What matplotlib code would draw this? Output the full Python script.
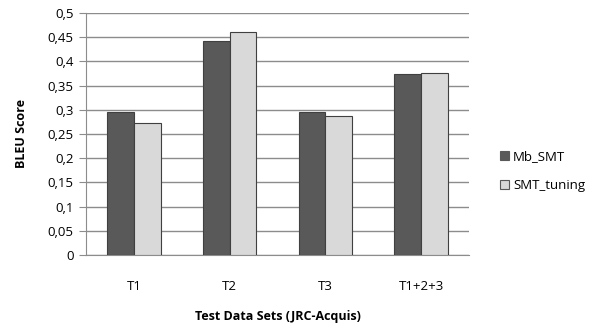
import numpy as np
import matplotlib
matplotlib.use("Agg")
import matplotlib.pyplot as plt
from matplotlib.ticker import FuncFormatter

# BLEU scores per test set
test_sets = ["T1", "T2", "T3", "T1+2+3"]
mb_smt = [0.295, 0.442, 0.295, 0.374]
smt_tuning = [0.273, 0.460, 0.287, 0.377]
y_ticks = np.arange(0, 0.501, 0.05)

plt.rcParams["font.family"] = ["Open Sans", "DejaVu Sans"]

fig = plt.figure(figsize=(5.94, 3.29), dpi=100)
ax = fig.add_axes([86 / 594, 1 - 255 / 329, 383 / 594, 242 / 329])

x = np.arange(len(test_sets))
w = 0.28
ax.bar(x - w / 2, mb_smt, w, color="#595959", edgecolor="#404040",
       linewidth=0.8, label="Mb_SMT", zorder=3)
ax.bar(x + w / 2, smt_tuning, w, color="#d9d9d9", edgecolor="#404040",
       linewidth=0.8, label="SMT_tuning", zorder=3)

ax.set_xlim(-0.5, len(test_sets) - 0.5)
ax.set_ylim(0, 0.5)
ax.set_yticks(y_ticks)
ax.yaxis.set_major_formatter(FuncFormatter(
    lambda v, p: "0" if abs(v) < 1e-9 else ("%g" % round(v, 2)).replace(".", ",")))
ax.grid(axis="y", color="#8c8c8c", linewidth=1.0, zorder=0)

for s in ["top", "right"]:
    ax.spines[s].set_visible(False)
ax.spines["left"].set_color("#8c8c8c")
ax.spines["bottom"].set_color("#8c8c8c")
ax.tick_params(axis="y", length=5, color="#8c8c8c", labelsize=9.5, pad=4)
ax.tick_params(axis="x", length=0, labelsize=9.5, pad=18)
ax.set_xticks(x)
ax.set_xticklabels(test_sets)

ax.set_ylabel("BLEU Score", fontsize=9, fontweight="bold", labelpad=14)
ax.set_xlabel("Test Data Sets (JRC-Acquis)", fontsize=9, fontweight="bold",
              labelpad=12)

leg = fig.legend(loc="center left", bbox_to_anchor=(488 / 594, 1 - 171 / 329),
                 frameon=False, fontsize=9.5, handlelength=0.7,
                 handleheight=0.7, handletextpad=0.3, labelspacing=1.2)
for h in leg.legend_handles:
    h.set_edgecolor("#595959")

fig.savefig("out.png", dpi=100)
